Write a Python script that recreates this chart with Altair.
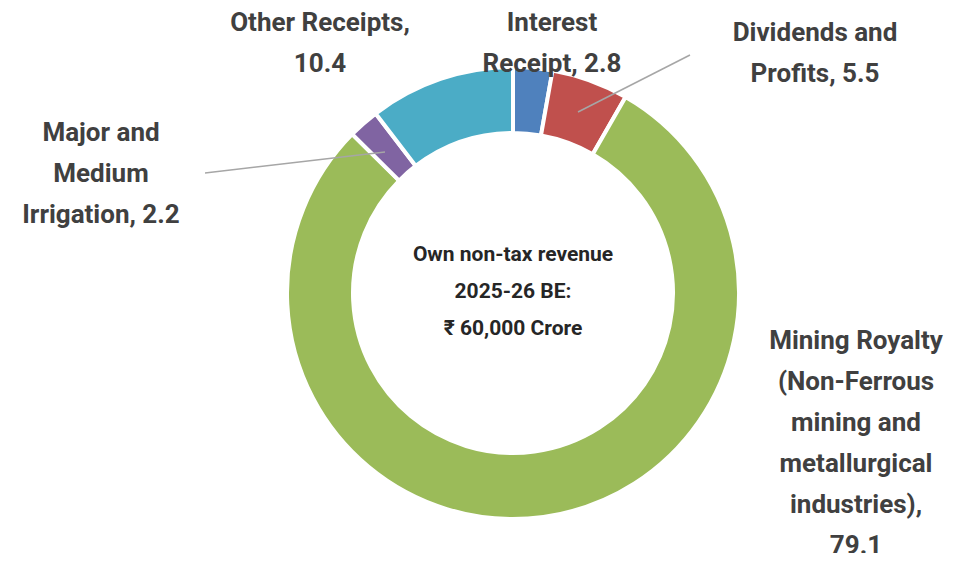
import altair as alt
import pandas as pd

categories = ["Interest Receipt", "Dividends and Profits",
              "Mining Royalty (Non-Ferrous mining and metallurgical industries)",
              "Major and Medium Irrigation", "Other Receipts"]
shares = [2.8, 5.5, 79.1, 2.2, 10.4]
colors = ["#4f81bd", "#c0504d", "#9bbb59", "#8064a2", "#4bacc6"]

df = pd.DataFrame({"category": categories, "share": shares, "order": range(5)})

W, H = 949, 545
cx, cy = 505, 285

donut = alt.Chart(df).mark_arc(
    outerRadius=226, innerRadius=160, stroke="white", strokeWidth=4
).encode(
    theta=alt.Theta("share:Q", stack=True),
    order=alt.Order("order:Q"),
    color=alt.Color("category:N", sort=categories, legend=None,
                    scale=alt.Scale(domain=categories, range=colors)),
    x=alt.value(cx), y=alt.value(cy),
)

labels = pd.DataFrame({
    "text": [["Interest", "Receipt, 2.8"], ["Dividends and", "Profits, 5.5"],
             ["Mining Royalty", "(Non-Ferrous", "mining and", "metallurgical",
              "industries),", "79.1"],
             ["Major and", "Medium", "Irrigation, 2.2"], ["Other Receipts,", "10.4"]],
    "x": [544, 807, 848, 93, 312],
    "y": [2, 12, 320, 112, 2],
})

text = alt.Chart(labels).mark_text(
    font="Roboto", fontWeight="bold", color="#404040", align="center",
    baseline="top", lineHeight=41, fontSize=26
).encode(
    x=alt.X("x:Q", scale=None), y=alt.Y("y:Q", scale=None), text="text",
)

center = pd.DataFrame({
    "text": [["Own non-tax revenue", "2025-26 BE:", "₹ 60,000 Crore"]],
    "x": [505], "y": [236],
})
center_text = alt.Chart(center).mark_text(
    font="Roboto", fontWeight="bold", color="#262626", align="center",
    baseline="top", lineHeight=37, fontSize=21
).encode(
    x=alt.X("x:Q", scale=None), y=alt.Y("y:Q", scale=None), text="text",
)

leaders = pd.DataFrame({"x": [682, 197], "y": [47, 165], "x2": [570, 377], "y2": [104, 144]})
lines = alt.Chart(leaders).mark_rule(color="#a6a6a6", strokeWidth=1.5).encode(
    x=alt.X("x:Q", scale=None), y=alt.Y("y:Q", scale=None),
    x2="x2:Q", y2="y2:Q",
)

chart = alt.layer(donut, lines, text, center_text).properties(
    width=W, height=H, padding=0, autosize=alt.AutoSizeParams(type="none")
).configure_view(stroke=None)

chart.save("out.html", embed_options={"renderer": "svg", "actions": False})
